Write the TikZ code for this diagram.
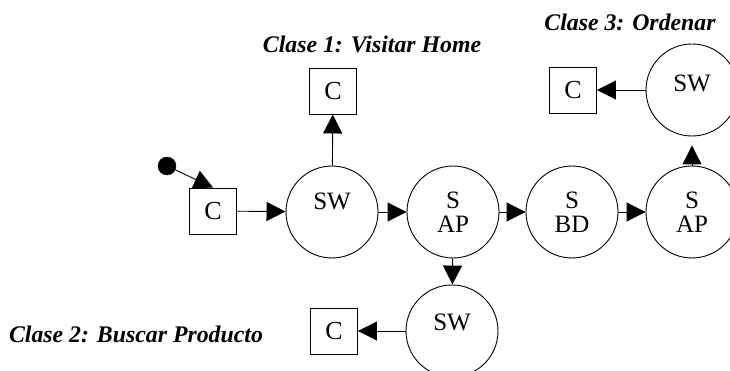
\documentclass[tikz,border=0pt]{standalone}
\usepackage{fontspec}
\setmainfont{Liberation Serif}
\usetikzlibrary{arrows.meta}
\begin{document}
\begin{tikzpicture}[x=1pt,y=-1pt,
  caja/.style={draw,line width=0.9pt,minimum width=47pt,minimum height=46pt,inner sep=0pt,font=\fontsize{26}{24}\selectfont},
  serv/.style={draw,circle,line width=0.9pt,minimum size=92pt,inner sep=0pt,align=center,font=\fontsize{25}{24}\selectfont},
  flecha/.style={draw,line width=0.9pt,-{Triangle[length=19pt,width=19pt]}},
  clase/.style={font=\fontsize{23.8}{26}\selectfont\bfseries\itshape}]
\useasboundingbox (0,0) rectangle (730,371);
\node[draw,circle,fill=black,minimum size=18pt,inner sep=0pt] (ini) at (167,166) {};
\node[caja] (c0) at (213,211) {C};
\node[serv,text depth=22pt] (sw1) at (332,212) {SW};
\node[caja] (c1) at (333,91) {C};
\node[serv] (sap1) at (453,212) {S\\AP};
\node[serv] (sbd) at (572,212) {S\\BD};
\node[serv] (sap2) at (692,212) {S\\AP};
\node[serv,text depth=14pt] (sw3) at (692,90) {SW};
\node[caja] (c3) at (573,90) {C};
\node[serv,text depth=18pt] (sw2) at (452,331) {SW};
\node[caja] (c2) at (334,331) {C};
\node[clase] (l1) at (372,44) {Clase 1: Visitar Home};
\node[clase] (l3) at (630,22) {Clase 3: Ordenar};
\node[clase] (l2) at (136,334) {Clase 2: Buscar Producto};

\path[flecha] (ini) -- (c0.north);
\path[flecha] (c0) -- (sw1);
\path[flecha] (sw1) -- (c1);
\path[flecha] (sw1) -- (sap1);
\path[flecha] (sap1) -- (sbd);
\path[flecha] (sbd) -- (sap2);
\path[flecha,shorten >=9pt] (sap2) -- (sw3);
\path[flecha] (sw3) -- (c3);
\path[flecha] (sap1) -- (sw2);
\path[flecha] (sw2) -- (c2);
\end{tikzpicture}
\end{document}
